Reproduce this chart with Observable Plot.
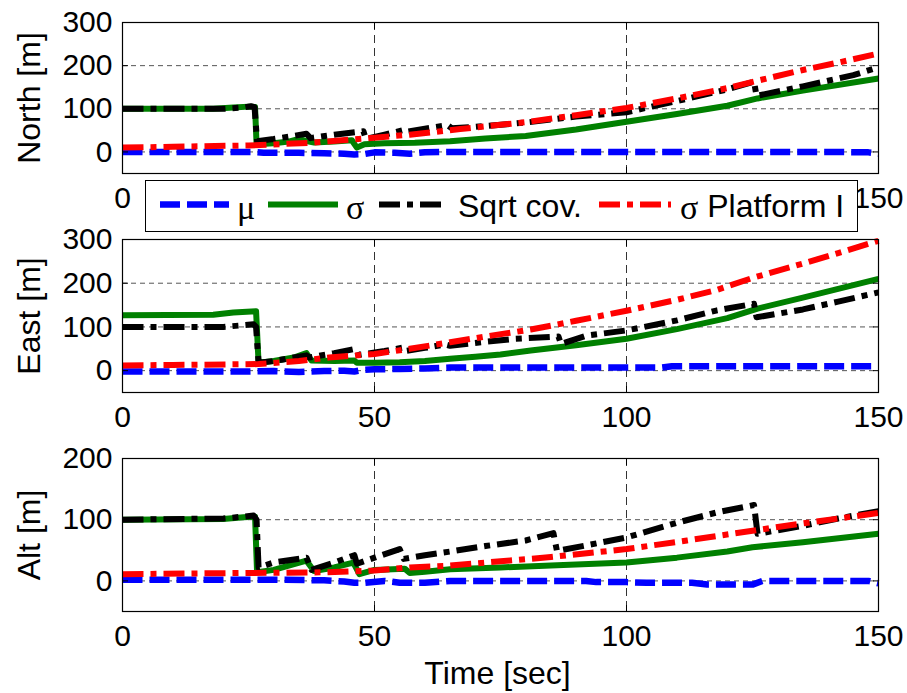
<!DOCTYPE html>
<html><head><meta charset="utf-8">
<script src="https://cdn.jsdelivr.net/npm/d3@7"></script>
<script src="https://cdn.jsdelivr.net/npm/@observablehq/plot@0.6"></script>
<style>
body{margin:0;background:#fff;}
#wrap{position:relative;width:907px;height:693px;overflow:hidden;background:#fff;font-family:'Liberation Sans',Arial,sans-serif;}
.panel{position:absolute;left:0;}
#legend{position:absolute;left:145px;top:180px;width:713px;height:52px;box-sizing:border-box;border:1.5px solid #000;background:#fff;z-index:5;}
</style></head><body><div id="wrap"></div>
<script>
const xTicks = [0, 50, 100, 150];
const xTicksTopPanel = [0, 150]; // 50 and 100 are hidden behind the legend in the reference
const seriesNames = ["μ", "σ", "Sqrt cov.", "σ Platform I"];
const panelLabels = ["North [m]", "East [m]", "Alt [m]"];
const xLabel = "Time [sec]";

// North
const northMuT = [0, 10, 20, 26, 28, 35, 40, 44, 46, 48, 50, 54, 57, 60, 65, 80, 100, 120, 140, 148, 150];
const northMuV = [0, 0, 0, 0, -2, -2, -3, -4, -6, -5, -1, -2, -4, -1, 0, 0, 0, 0, 0, -1, -4];
const northSigmaT = [0, 18, 22, 25, 26.3, 26.6, 30, 33, 35, 36.5, 38, 42, 45.5, 46.5, 48, 52, 58, 65, 72, 80, 90, 100, 110, 120, 126, 135, 150];
const northSigmaV = [100, 100, 103, 105, 104, 18, 20, 24, 30, 25, 22, 24, 27, 10, 18, 20, 21, 25, 31, 37, 52, 70, 88, 107, 124, 142, 170];
const northSqrtT = [0, 20, 24, 25.5, 26.2, 26.7, 30, 36.5, 37.3, 42, 47.8, 48.3, 52, 55.5, 56, 60, 64.5, 65.3, 70, 80, 90, 100, 110, 120, 125.3, 125.8, 135, 145, 150];
const northSqrtV = [100, 100, 103, 106, 104, 25, 30, 42, 32, 40, 48, 30, 40, 50, 46, 54, 62, 55, 58, 68, 82, 92, 118, 145, 163, 130, 152, 178, 196];
const northPlatT = [0, 10, 25, 37, 48, 57, 67, 80, 90, 100, 110, 120, 126, 135, 142, 150];
const northPlatV = [10, 12, 15, 21, 31, 40, 53, 69, 85, 102, 124, 148, 165, 190, 207, 228];

// East
const eastMuT = [0, 25, 30, 35, 40, 44, 46, 48, 50, 55, 60, 65, 80, 100, 107, 109, 130, 150];
const eastMuV = [-2, -2, -1, -3, -1, 0, -2, 2, 3, 4, 5, 7, 7, 7, 7, 10, 10, 10];
const eastSigmaT = [0, 18, 22, 26.5, 27, 30, 34, 36.5, 37.5, 42, 46, 46.5, 50, 55, 60, 65, 70, 75, 81, 90, 100, 110, 120, 126, 135, 150];
const eastSigmaV = [127, 128, 133, 136, 18, 22, 30, 40, 23, 22, 23, 18, 18, 19, 22, 27, 32, 37, 46, 58, 73, 95, 120, 142, 167, 210];
const eastSqrtT = [0, 20, 24, 26, 26.5, 27, 30, 36.5, 37, 42, 46.3, 46.8, 52, 55.8, 56.2, 60, 64, 65, 72, 78, 86.5, 87, 92, 100, 110, 118, 125.3, 125.8, 135, 142, 150];
const eastSqrtV = [100, 100, 104, 106, 100, 18, 22, 35, 30, 40, 50, 36, 45, 53, 45, 52, 60, 57, 66, 73, 78, 61, 80, 92, 115, 138, 153, 122, 140, 158, 179];
const eastPlatT = [0, 10, 27, 35, 41, 50, 57, 65, 72, 81, 90, 100, 110, 118, 125, 135, 142, 150];
const eastPlatV = [12, 13, 15, 22, 30, 38, 50, 65, 78, 94, 114, 137, 162, 185, 212, 245, 269, 297];

// Alt
const altMuT = [0, 30, 40, 44, 46, 48, 52, 55, 60, 65, 80, 92, 94, 100, 104, 113, 116, 125, 127, 140, 148, 150];
const altMuV = [2, 2, 1, -1, -3, -3, 0, -3, -3, 0, 0, 0, -2, -2, -3, -3, -6, -6, 0, 0, 0, -4];
const altSigmaT = [0, 20, 24, 26.3, 26.7, 30, 36.5, 38, 42, 45.8, 47, 50, 56, 57, 60, 65, 75, 85, 100, 110, 120, 125, 135, 150];
const altSigmaV = [100, 101, 104, 105, 14, 18, 33, 16, 22, 30, 11, 18, 20, 13, 15, 19, 22, 25, 30, 38, 48, 55, 63, 77];
const altSqrtT = [0, 20, 24, 26, 26.6, 27, 30, 36.5, 37.5, 42, 46, 46.5, 50, 55, 55.8, 60, 65, 72, 80, 85.5, 86.2, 92, 100, 110, 118, 125.3, 126, 135, 142, 150];
const altSqrtV = [100, 102, 105, 107, 100, 22, 30, 38, 18, 30, 42, 28, 38, 52, 36, 42, 48, 57, 66, 78, 49, 58, 71, 95, 112, 124, 77, 90, 102, 114];
const altPlatT = [0, 25, 40, 50, 57, 65, 75, 85, 100, 112, 125, 135, 150];
const altPlatV = [11, 13, 14, 17, 22, 25, 32, 39, 52, 66, 82, 94, 111];

const yTicksNE = [0, 100, 200, 300];
const yTicksAlt = [0, 100, 200];

const seriesStyles = [
  {stroke: "#0000ff", strokeWidth: 6.5, strokeDasharray: "20,7"},
  {stroke: "#008000", strokeWidth: 6, strokeDasharray: null},
  {stroke: "#000000", strokeWidth: 6, strokeDasharray: "21,7,6,7"},
  {stroke: "#ff0000", strokeWidth: 6, strokeDasharray: "21,7,6,7"}
];

const pts = (t, v) => t.map((x, i) => ({t: x, v: v[i]}));

const panels = [
  {label: panelLabels[0], domain: [-50, 300], ticks: yTicksNE, xt: xTicksTopPanel, top: 0, height: 225, mt: 22, mb: 52,
   series: [pts(northMuT, northMuV), pts(northSigmaT, northSigmaV), pts(northSqrtT, northSqrtV), pts(northPlatT, northPlatV)]},
  {label: panelLabels[1], domain: [-50, 300], ticks: yTicksNE, xt: xTicks, top: 225, height: 215, mt: 14, mb: 48,
   series: [pts(eastMuT, eastMuV), pts(eastSigmaT, eastSigmaV), pts(eastSqrtT, eastSqrtV), pts(eastPlatT, eastPlatV)]},
  {label: panelLabels[2], domain: [-50, 200], ticks: yTicksAlt, xt: xTicks, top: 440, height: 253, mt: 18, mb: 82, xlab: true,
   series: [pts(altMuT, altMuV), pts(altSigmaT, altSigmaV), pts(altSqrtT, altSqrtV), pts(altPlatT, altPlatV)]}
];

const wrap = document.getElementById("wrap");
const font = "'Liberation Sans', Arial, sans-serif";

for (const p of panels) {
  const marks = [
    Plot.gridY(p.ticks, {stroke: "#555", strokeOpacity: 1, strokeWidth: 1, strokeDasharray: "5,4"}),
    Plot.gridX([50, 100], {stroke: "#333", strokeOpacity: 1, strokeWidth: 1, strokeDasharray: "8,5"}),
    ...p.series.map((d, i) => Plot.line(d, {x: "t", y: "v", ...seriesStyles[i], strokeLinecap: "butt", strokeLinejoin: "round"})),
    Plot.frame({stroke: "#000", strokeWidth: 1.2}),
    Plot.axisY(p.ticks, {anchor: "left", tickSize: -6, tickPadding: 16, fontSize: 30, label: null}),
    Plot.axisY(p.ticks, {anchor: "right", tickSize: -6, fill: "none", label: null}),
    Plot.axisX(xTicks, {anchor: "bottom", tickSize: -6, fill: "none", label: null}),
    Plot.axisX(p.xt, {anchor: "bottom", tickSize: 0, tickPadding: 13, fontSize: 30, label: null}),
    Plot.axisX(xTicks, {anchor: "top", tickSize: -6, fill: "none", label: null}),
    Plot.text([p.label], {text: d => d, frameAnchor: "left", textAnchor: "middle", lineAnchor: "middle", rotate: -90, dx: -93, fontSize: 32, fill: "#000"})
  ];
  if (p.xlab) marks.push(Plot.text([xLabel], {text: d => d, frameAnchor: "bottom", textAnchor: "middle", lineAnchor: "middle", dy: 62, dx: -3, fontSize: 32, fill: "#000"}));
  const chart = Plot.plot({
    width: 907, height: p.height,
    marginLeft: 122, marginRight: 29, marginTop: p.mt, marginBottom: p.mb,
    x: {domain: [0, 150]},
    y: {domain: p.domain},
    style: {fontFamily: font, fontSize: "30px", color: "#000", background: "transparent", overflow: "visible"},
    marks
  });
  chart.classList.add("panel");
  chart.style.top = p.top + "px";
  chart.style.position = "absolute";
  wrap.appendChild(chart);
}

// Legend
const legend = document.createElement("div");
legend.id = "legend";
wrap.appendChild(legend);
const lsvg = d3.select(legend).append("svg").attr("width", 710).attr("height", 49)
  .style("position", "absolute").style("left", "0").style("top", "0");
const items = [
  {x0: 14, x1: 83, tx: 91, greek: "μ", rest: ""},
  {x0: 122, x1: 192, tx: 200, greek: "σ", rest: ""},
  {x0: 233, x1: 302, tx: 312, greek: "", rest: "Sqrt cov."},
  {x0: 453, x1: 525, tx: 534, greek: "σ", rest: " Platform I"}
];
items.forEach((it, i) => {
  const s = seriesStyles[i];
  lsvg.append("line").attr("x1", it.x0).attr("x2", it.x1).attr("y1", 23.5).attr("y2", 23.5)
    .attr("stroke", s.stroke).attr("stroke-width", s.strokeWidth)
    .attr("stroke-dasharray", s.strokeDasharray).attr("stroke-linecap", "butt");
  const t = lsvg.append("text").attr("x", it.tx).attr("y", 36).attr("font-size", 32).attr("font-family", font).attr("fill", "#000");
  if (it.greek) t.append("tspan").attr("font-family", "'Liberation Serif', 'DejaVu Serif', serif").attr("font-size", 34).attr("dy", 2).text(it.greek);
  if (it.rest) t.append("tspan").attr("dy", it.greek ? -2 : 0).text(it.rest);
});
</script>
</body></html>
